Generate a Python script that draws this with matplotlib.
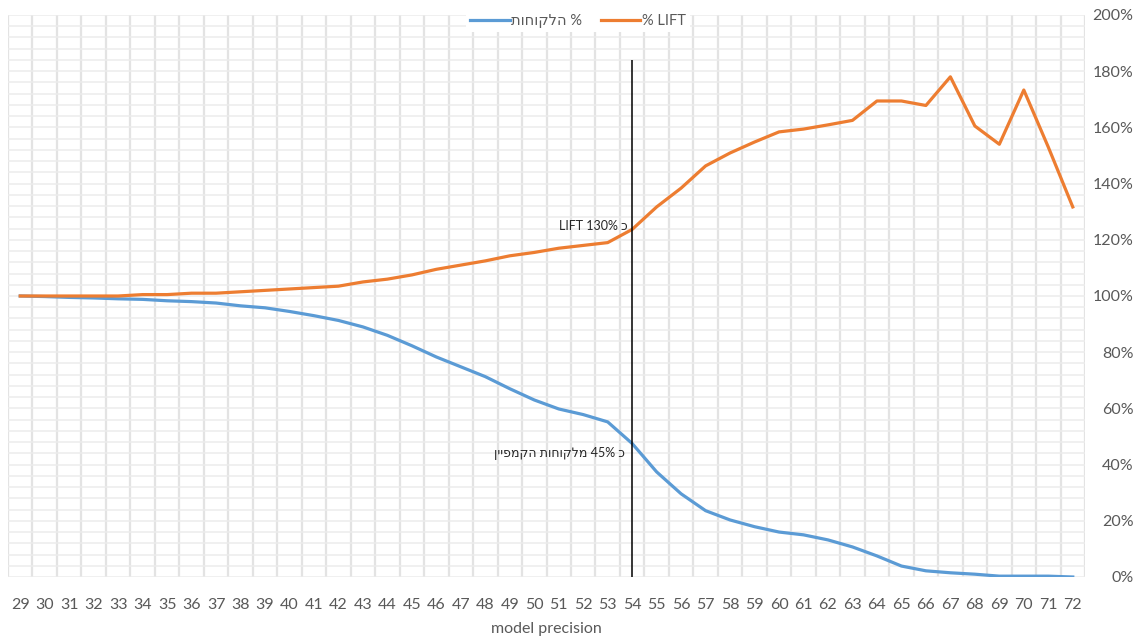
import numpy as np
import matplotlib
matplotlib.use("Agg")
import matplotlib.pyplot as plt
from matplotlib.ticker import MultipleLocator, FixedLocator, FuncFormatter

plt.rcParams['font.family'] = ['Lato', 'DejaVu Sans']

precision = list(range(29, 73))

# share of customers kept (%)
customers_pct = [100, 99.8, 99.5, 99.3, 99, 98.8, 98.3, 98, 97.5, 96.5, 95.8,
                 94.5, 93, 91.3, 89, 86, 82.3, 78.3, 74.8, 71.3, 67, 63,
                 59.8, 57.8, 55.2, 47.5, 37.4, 29.6, 23.6, 20.3, 17.9, 16,
                 15, 13.2, 10.7, 7.5, 3.9, 2.2, 1.5, 1, 0.3, 0.3, 0.3, 0]

# lift relative to baseline (%)
lift_pct = [100, 100, 100, 100, 100, 100.5, 100.5, 101, 101, 101.5, 102,
            102.5, 103, 103.5, 105, 106, 107.5, 109.5, 111, 112.5, 114.3,
            115.5, 117, 118, 119, 123.7, 131.7, 138.4, 146.3, 150.9, 154.8,
            158.4, 159.4, 160.9, 162.5, 169.4, 169.4, 167.8, 178, 160.5,
            154, 173.3, 153, 131.7]

cutoff = 54
cutoff_top = 184
lift_note = "LIFT 130% כ"
customers_note = "ןייפמקה תוחוקלמ 45% כ"

blue = '#5B9BD5'
orange = '#ED7D31'
gray = '#595959'

fig = plt.figure(figsize=(11.45, 6.38), dpi=100)
ax = fig.add_axes([8 / 1145, 1 - 577 / 638, (1085 - 8) / 1145, (577 - 15) / 638])

x = np.array(precision)
ax.plot(x, np.array(customers_pct) / 100, color=blue, lw=2.3,
        solid_joinstyle='round', label='תוחוקלה %', zorder=3)
ax.plot(x, np.array(lift_pct) / 100, color=orange, lw=2.3,
        solid_joinstyle='round', label='% LIFT', zorder=3)
ax.vlines(cutoff, 0, cutoff_top / 100, color='black', lw=1.1, zorder=4)

ax.text(53.8, 1.25, lift_note, ha='right', va='center', fontsize=9,
        color='#262626', zorder=5)
ax.text(53.7, 0.441, customers_note, ha='right', va='center', fontsize=9,
        color='#262626', zorder=5)

ax.set_xlim(28.5, 72.5)
ax.set_ylim(0, 2.0)
ax.set_xticks(precision)
# category borders sit halfway between the precision values
ax.xaxis.set_minor_locator(FixedLocator(np.arange(28.5, 73.0, 1.0)))
ax.yaxis.set_major_locator(MultipleLocator(0.2))
ax.yaxis.set_minor_locator(MultipleLocator(0.04))
ax.yaxis.set_major_formatter(FuncFormatter(lambda v, _: f"{v * 100:.0f}%"))
ax.yaxis.tick_right()

ax.grid(which='minor', axis='x', color='#e3e3e3', lw=1.6, zorder=0)
ax.grid(which='major', axis='x', visible=False)
ax.grid(which='both', axis='y', color='#ececec', lw=1.1, zorder=0)
ax.set_axisbelow(True)

ax.tick_params(which='both', length=0)
ax.tick_params(axis='x', labelsize=11.5, labelcolor=gray, pad=15)
ax.tick_params(axis='y', labelsize=11.5, labelcolor=gray, pad=35)
for lbl in ax.get_yticklabels():
    lbl.set_horizontalalignment('right')
for s in ax.spines.values():
    s.set_visible(False)

ax.set_xlabel('model precision', fontsize=11.5, color=gray, labelpad=7)

leg = fig.legend(loc='center', bbox_to_anchor=(578 / 1145, 1 - 21 / 638),
                 ncol=2, fontsize=10.5, handlelength=2.7, handletextpad=0.1,
                 columnspacing=1.3, frameon=True, facecolor='white',
                 edgecolor='none', framealpha=1, borderpad=0.3)
for t in leg.get_texts():
    t.set_color(gray)

fig.savefig('out.png', dpi=100, facecolor='white')
